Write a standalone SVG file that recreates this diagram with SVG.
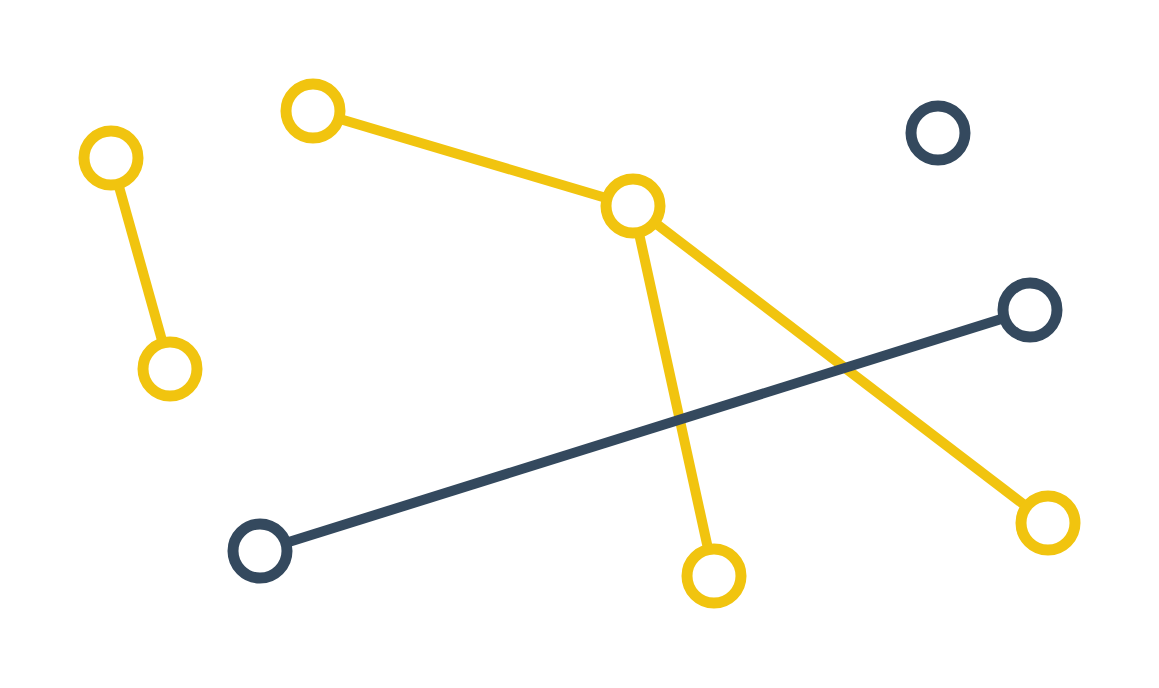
<svg xmlns="http://www.w3.org/2000/svg" width="1159" height="688" viewBox="0 0 1159 688">
<style>
.y{stroke:#F1C40F}
.d{stroke:#34495E}
.edge{stroke-width:10;fill:none;stroke-linecap:butt}
.node{fill:#FFFFFF;stroke-width:11}
</style>
<rect width="1159" height="688" fill="#FFFFFF"/>
<g id="connectors">
<line class="edge y" x1="111" y1="158" x2="170" y2="369"/>
<line class="edge y" x1="313" y1="111" x2="633" y2="206"/>
<line class="edge y" x1="633" y1="206" x2="714" y2="576"/>
<line class="edge y" x1="633" y1="206" x2="1048" y2="523"/>
<line class="edge d" x1="260" y1="551" x2="1030" y2="310"/>
</g>
<g id="nodeA"><circle class="node y" cx="111" cy="158" r="27"/></g>
<g id="nodeB"><circle class="node y" cx="170" cy="369" r="27"/></g>
<g id="nodeC"><circle class="node y" cx="313" cy="111" r="27"/></g>
<g id="nodeD"><circle class="node y" cx="633" cy="206" r="27"/></g>
<g id="nodeE"><circle class="node y" cx="714" cy="576" r="27"/></g>
<g id="nodeF"><circle class="node y" cx="1048" cy="523" r="27"/></g>
<g id="nodeG"><circle class="node d" cx="938" cy="133" r="27"/></g>
<g id="nodeH"><circle class="node d" cx="1030" cy="310" r="27"/></g>
<g id="nodeI"><circle class="node d" cx="260" cy="551" r="27"/></g>
</svg>
